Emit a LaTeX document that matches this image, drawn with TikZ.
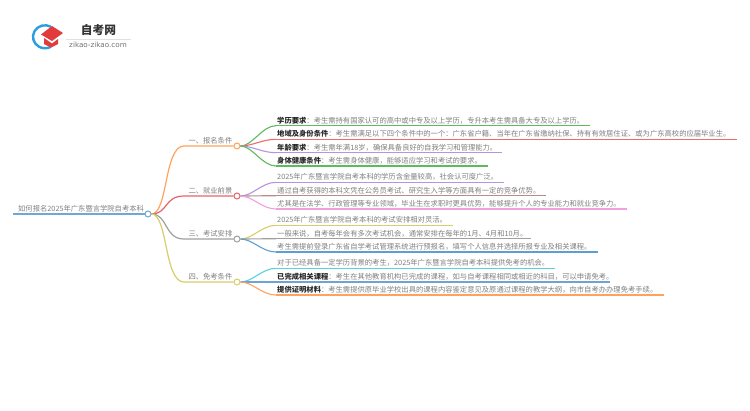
\documentclass[tikz,border=0pt]{standalone}
\usepackage{fontspec}
\setmainfont{Noto Sans CJK SC}[Scale=1]
\newfontfamily\latinf{DejaVu Sans}
\definecolor{tg}{HTML}{808080}
\definecolor{cRoot}{HTML}{6FA8D6}
\definecolor{cOrange}{HTML}{FFA35C}
\definecolor{cRed}{HTML}{E8636B}
\definecolor{cGrey}{HTML}{A0A0A0}
\definecolor{cYellow}{HTML}{D6CF6A}
\definecolor{cGreen}{HTML}{5DBB5D}
\definecolor{cLRed}{HTML}{F06A6A}
\definecolor{cPurple}{HTML}{B793E0}
\definecolor{cBrown}{HTML}{B98C88}
\definecolor{cPink}{HTML}{F0A0DC}
\definecolor{cBlue}{HTML}{5E9FD2}
\definecolor{cCyan}{HTML}{5AD0E6}
\definecolor{cSteel}{HTML}{6FA3D0}
\definecolor{logoB}{HTML}{2A9FE0}
\definecolor{logoR}{HTML}{E23B3B}
\tikzset{x=1pt,y=-1pt,
 txt/.style={inner sep=0pt,anchor=base west,font=\fontsize{7.31}{8}\selectfont,text=tg},
 lbl/.style={inner sep=0pt,anchor=base east,font=\fontsize{7.3}{8}\selectfont,text=tg},
 dot/.style={circle,draw=#1,fill=white,line width=1pt,minimum size=6pt,inner sep=0pt},
 conn/.style={draw=#1,line width=1.1pt},
 under/.style={draw=#1,line width=1.1pt}}
\newcommand{\leafk}[6]{% id, y, endx, colour, bold, rest
 \coordinate (#1s) at (276,#2);
 \coordinate (#1e) at (#3,#2);
 \node[txt] (#1t) at (277,#2-2.6) {\textbf{\textcolor{black!85}{#5}}#6};
 \draw[under=#4] (#1s) -- (#1e);
}
\newcommand{\leafc}[4]{\draw[conn=#4] (#1) .. controls +(12,0) and +(-14,0) .. (#2s);}
\begin{document}
\begin{tikzpicture}
\useasboundingbox (0,0) rectangle (750,410);
\fill[white] (0,0) rectangle (750,410);
% logo
\draw[logoB,line width=2.4pt] (51,26.8) arc (-60:-300:12 and 11.5);
\fill[logoR] (41,34.5) -- (52,26) -- (63,33) -- (52,41) -- cycle;
\fill[logoR] (44,38) -- (52,43.5) -- (58,39) -- (58,44) -- (51,47.5) -- (44,44) -- cycle;
\node[inner sep=0pt,font=\fontsize{11.7}{12}\selectfont\bfseries,text=black!80] (logot) at (98.5,30.5) {自考网};
\node[inner sep=0pt,font=\fontsize{7.2}{8}\selectfont\latinf,text=black!55] (logos) at (98,44.7) {zikao-zikao.com};
\draw[black!12,line width=.5pt] (66,39) -- (131,39);
% root
\coordinate (rs) at (13,214);
\node[dot=cRoot] (root) at (148,214) {};
\node[inner sep=0pt,anchor=base west,font=\fontsize{7.3}{8}\selectfont,text=tg] (roott) at (18,211) {如何报名2025年广东暨言学院自考本科};
\draw[cRoot,line width=1.5pt] (rs) -- (root.west);
% branches
\foreach \n/\yy/\c/\t in {a/146/cOrange/一、报名条件,b/196/cRed/二、就业前景,c/239/cGrey/三、考试安排,d/282/cYellow/四、免考条件}{
 \node[dot=\c] (\n) at (237,\yy) {};
 \coordinate (\n k) at (184,\yy);
 \node[lbl] (\n t) at (232.5,\yy-3) {\t};
 \draw[\c,line width=1.2pt] (root.east) .. controls (168,214) and (164,\yy) .. (\n k) -- (\n.west);
}
\leafk{l1}{125.7}{590}{cGreen}{学历要求}{：考生需持有国家认可的高中或中专及以上学历，专升本考生需具备大专及以上学历。}
\leafk{l2}{139.3}{737}{cLRed}{地域及身份条件}{：考生需满足以下四个条件中的一个：广东省户籍、当年在广东省缴纳社保、持有有效居住证、或为广东高校的应届毕业生。}
\leafk{l3}{152.7}{502}{cPurple}{年龄要求}{：考生需年满18岁，确保具备良好的自我学习和管理能力。}
\leafk{l4}{166}{488}{cGreen}{身体健康条件}{：考生需身体健康，能够适应学习和考试的要求。}
\leafk{l5}{182.3}{504}{cPurple}{}{2025年广东暨言学院自考本科的学历含金量较高，社会认可度广泛。}
\leafk{l6}{195.7}{546}{cBrown}{}{通过自考获得的本科文凭在公务员考试、研究生入学等方面具有一定的竞争优势。}
\leafk{l7}{209}{627}{cPink}{}{尤其是在法学、行政管理等专业领域，毕业生在求职时更具优势，能够提升个人的专业能力和就业竞争力。}
\leafk{l8}{225.3}{453}{cYellow}{}{2025年广东暨言学院自考本科的考试安排相对灵活。}
\leafk{l9}{238.7}{531}{cGrey}{}{一般来说，自考每年会有多次考试机会，通常安排在每年的1月、4月和10月。}
\leafk{l10}{252}{598}{cBlue}{}{考生需提前登录广东省自学考试管理系统进行预报名，填写个人信息并选择所报专业及相关课程。}
\leafk{l11}{268.3}{555}{cCyan}{}{对于已经具备一定学历背景的考生，2025年广东暨言学院自考本科提供免考的机会。}
\leafk{l12}{282}{610}{cSteel}{已完成相关课程}{：考生在其他教育机构已完成的课程，如与自考课程相同或相近的科目，可以申请免考。}
\leafk{l13}{295}{664}{cOrange}{提供证明材料}{：考生需提供原毕业学校出具的课程内容鉴定意见及原通过课程的教学大纲，向市自考办办理免考手续。}
\leafc{a.east}{l1}{}{cGreen}
\leafc{a.east}{l2}{}{cLRed}
\leafc{a.east}{l3}{}{cPurple}
\leafc{a.east}{l4}{}{cGreen}
\leafc{b.east}{l5}{}{cPurple}
\leafc{b.east}{l6}{}{cBrown}
\leafc{b.east}{l7}{}{cPink}
\leafc{c.east}{l8}{}{cYellow}
\leafc{c.east}{l9}{}{cGrey}
\leafc{c.east}{l10}{}{cBlue}
\leafc{d.east}{l11}{}{cCyan}
\leafc{d.east}{l12}{}{cSteel}
\leafc{d.east}{l13}{}{cOrange}
\end{tikzpicture}
\end{document}
